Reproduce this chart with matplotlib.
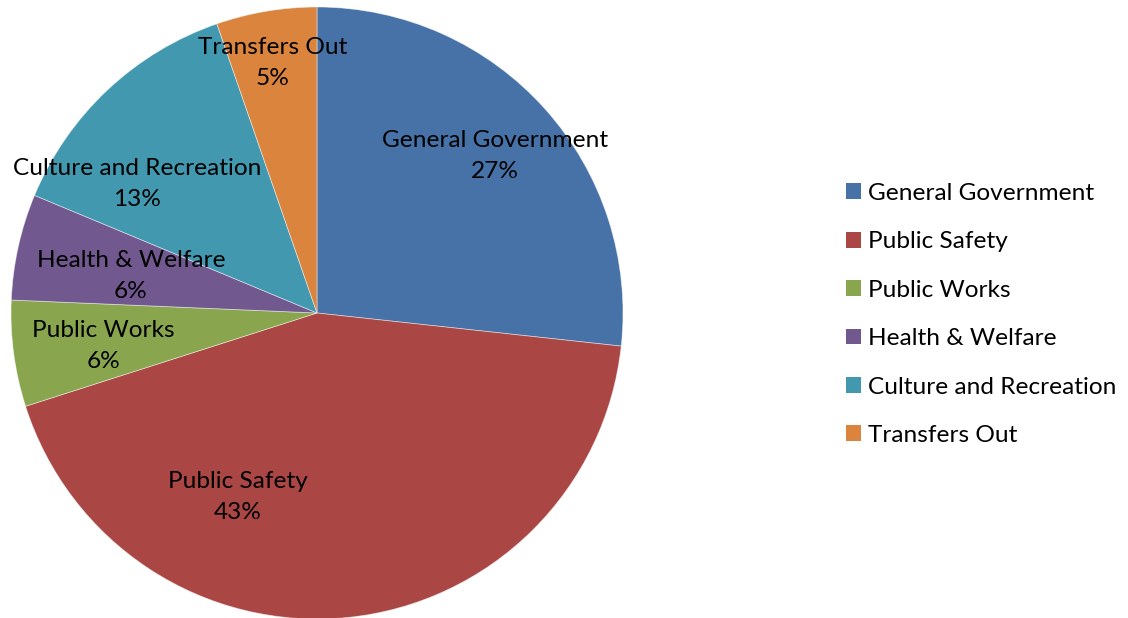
import matplotlib
matplotlib.use("Agg")
import matplotlib.pyplot as plt
from matplotlib.patches import Patch

categories = ["General Government", "Public Safety", "Public Works",
              "Health & Welfare", "Culture and Recreation", "Transfers Out"]
values = [26.7, 43.3, 5.6, 5.6, 13.4, 5.3]
pct_labels = ["27%", "43%", "6%", "6%", "13%", "5%"]
colors = ["#4672A8", "#AA4643", "#89A54E", "#71588F", "#4198AF", "#DB843D"]

# label centres in data units (pie radius = 1)
label_pos = [(0.582, 0.513), (-0.258, -0.602), (-0.699, -0.108),
             (-0.608, 0.121), (-0.588, 0.421), (-0.144, 0.817)]

plt.rcParams['font.family'] = ['Lato', 'DejaVu Sans']
W, H = 1128, 618
fig = plt.figure(figsize=(W / 100, H / 100), dpi=100)
cx, cy, r = 317, 313, 306
ax = fig.add_axes([(cx - r) / W, (H - cy - r) / H, 2 * r / W, 2 * r / H])
ax.axis('off')

wedges, _ = ax.pie(values, colors=colors, startangle=90, counterclock=False,
                   radius=1, center=(0, 0), frame=False,
                   wedgeprops=dict(linewidth=0.6, edgecolor=(1, 1, 1, 0.5)))
ax.set_xlim(-1, 1)
ax.set_ylim(-1, 1)
ax.set_aspect('auto')

fs = 17.6
for name, pct, (x, y) in zip(categories, pct_labels, label_pos):
    ax.text(x, y, f"{name}\n{pct}", ha='center', va='center', fontsize=fs,
            color='black', linespacing=1.62)

handles = [Patch(facecolor=c, edgecolor='none') for c in colors]
fig.legend(handles, categories, loc='upper left',
           bbox_to_anchor=(846 / W, 1 - 183 / H), frameon=False,
           fontsize=fs, handlelength=0.62, handleheight=0.62,
           handletextpad=0.3, labelspacing=1.12, borderpad=0, borderaxespad=0)

fig.savefig("out.png", dpi=100)
